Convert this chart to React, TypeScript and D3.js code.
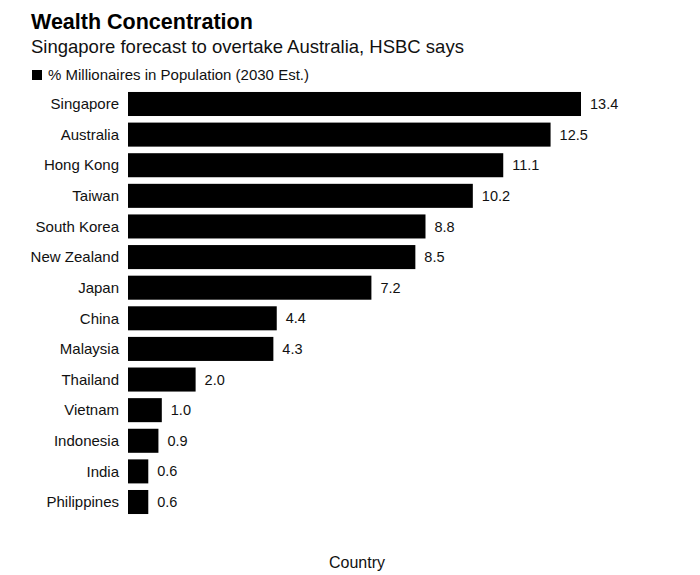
import React from "react";
import * as d3 from "d3";

const countries = ["Singapore","Australia","Hong Kong","Taiwan","South Korea","New Zealand","Japan","China","Malaysia","Thailand","Vietnam","Indonesia","India","Philippines"];
const values = [13.4,12.5,11.1,10.2,8.8,8.5,7.2,4.4,4.3,2.0,1.0,0.9,0.6,0.6];

const W = 700, H = 575;
const FONT = "'Liberation Sans', Arial, Helvetica, sans-serif";

export default function App() {
  const x = d3.scaleLinear().domain([0, 13.4]).range([128, 581]);
  const y = d3.scaleBand<string>().domain(countries).range([88.7, 517.3]).paddingInner(0.215).paddingOuter(0.107);
  const data = countries.map((c, i) => ({ c, v: values[i] }));
  return (
    <svg width={W} height={H} style={{ position: "absolute", left: 0, top: 0, background: "#fff" }} fontFamily={FONT}>
      <rect width={W} height={H} fill="#fff" />
      <text x={31} y={29} fontSize={21.5} fontWeight="bold" fill="#000">Wealth Concentration</text>
      <text x={31} y={53} fontSize={18.5} fill="#111">Singapore forecast to overtake Australia, HSBC says</text>
      <rect x={32} y={70} width={10} height={10} fill="#000" />
      <text x={48} y={80} fontSize={15} fill="#111">% Millionaires in Population (2030 Est.)</text>
      {data.map((d) => {
        const yy = y(d.c)!;
        const bh = y.bandwidth();
        return (
          <g key={d.c}>
            <rect x={x(0)} y={yy} width={x(d.v) - x(0)} height={bh} fill="#000" />
            <text x={119} y={yy + bh / 2} dy="0.35em" textAnchor="end" fontSize={15} fill="#111">{d.c}</text>
            <text x={x(d.v) + 9} y={yy + bh / 2} dy="0.35em" fontSize={14.5} fill="#111">{d.v.toFixed(1)}</text>
          </g>
        );
      })}
      <text x={357} y={568} textAnchor="middle" fontSize={16} fill="#111">Country</text>
    </svg>
  );
}
